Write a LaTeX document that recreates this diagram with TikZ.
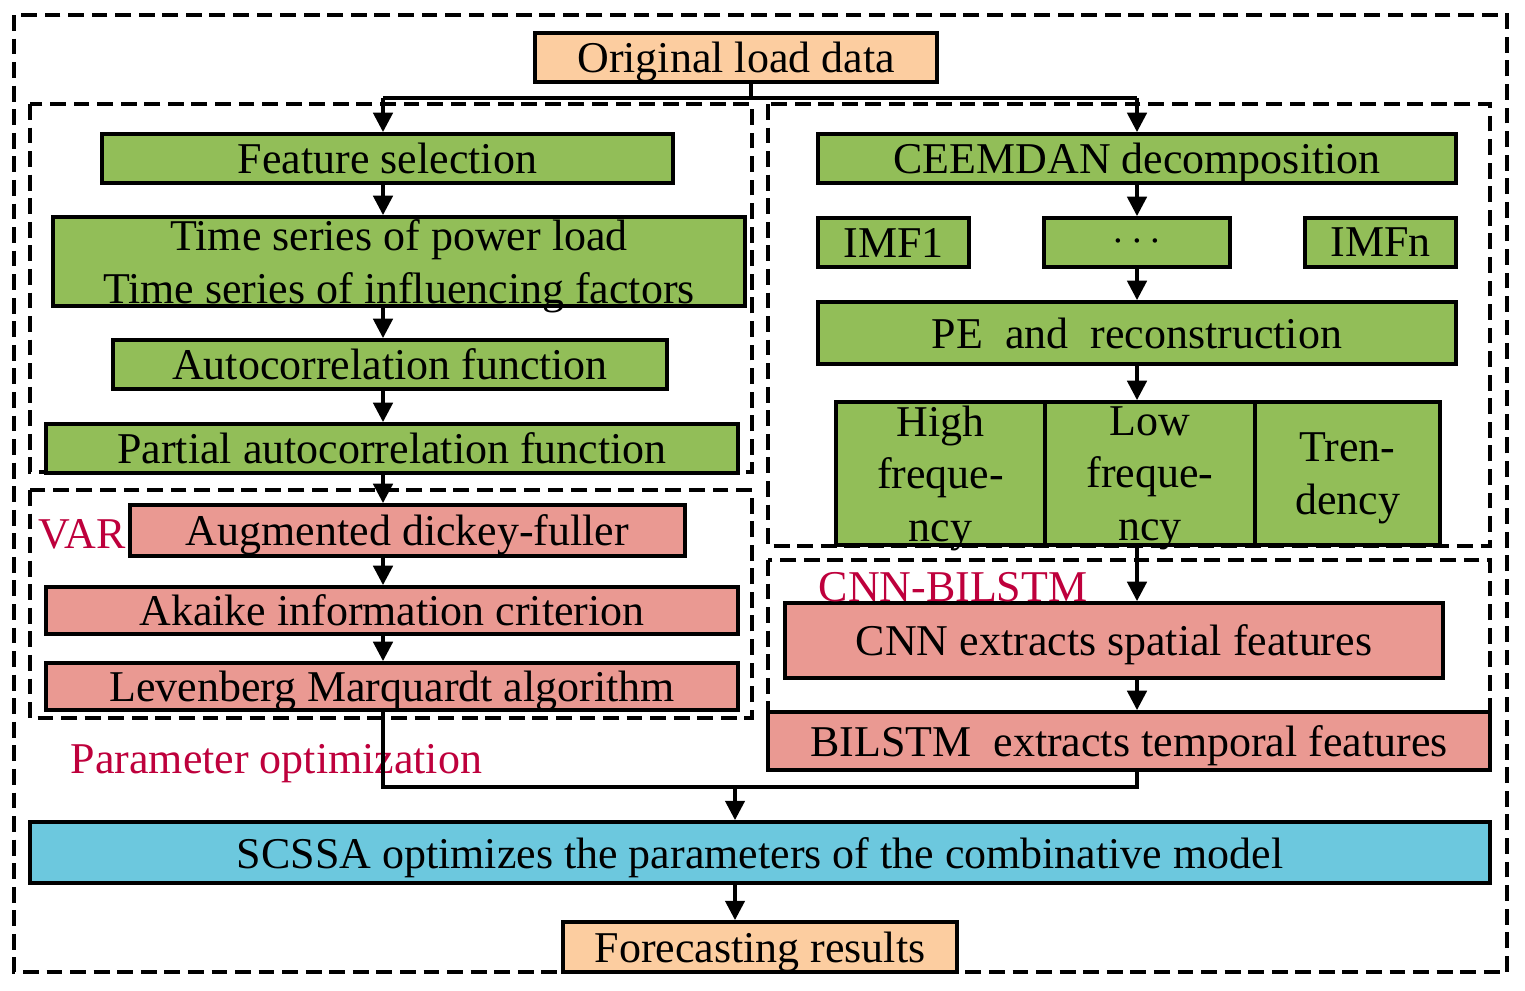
\documentclass[tikz,border=0pt]{standalone}
\usepackage{fontspec}
\setmainfont{Liberation Serif}
\usetikzlibrary{arrows.meta}
\definecolor{gr}{RGB}{146,190,88}
\definecolor{pk}{RGB}{234,153,146}
\definecolor{or}{RGB}{252,205,160}
\definecolor{cy}{RGB}{108,200,222}
\definecolor{lab}{RGB}{190,0,60}
\newcommand\mybox[7]{\node[#2, minimum width={(#5-#3)*0.01cm}, minimum height={(#6-#4)*0.01cm}] (#1) at ({(#3+#5)/2},{(#4+#6)/2}) {#7};}
\begin{document}
\begin{tikzpicture}[x=0.01cm,y=-0.01cm,
  box/.style={draw=black,line width=1.1pt,inner sep=0pt,font=\fontsize{12.5}{15}\selectfont,align=center,text depth=0pt},
  G/.style={box,fill=gr}, P/.style={box,fill=pk}, O/.style={box,fill=or}, C/.style={box,fill=cy},
  dsh/.style={draw=black,line width=1pt,dash pattern=on 4.5pt off 2.2pt},
  ar/.style={line width=1pt,-{Triangle[length=5.5pt,width=5.5pt]}},
  ln/.style={line width=1pt},
  lbl/.style={text=lab,font=\fontsize{12.5}{15}\selectfont,inner sep=0pt,anchor=west}]
\useasboundingbox (0,0) rectangle (1525,990);
\draw[dsh] (14,15) rectangle (1507,972);
\draw[dsh] (30,104) rectangle (752,472);
\draw[dsh] (768,104) rectangle (1490,546);
\draw[dsh] (30,490) rectangle (752,718);
\draw[dsh] (768,560) rectangle (1490,712);
\mybox{orig}{O}{535}{33}{937}{82}{Original load data}
\mybox{fs}{G}{102}{134}{673}{183}{Feature selection}
\mybox{ts}{G}{53}{217}{745}{306}{Time series of power load\\Time series of influencing factors}
\mybox{acf}{G}{113}{340}{667}{389}{Autocorrelation function}
\mybox{pacf}{G}{46}{424}{738}{473}{Partial autocorrelation function}
\mybox{adf}{P}{130}{505}{685}{556}{Augmented dickey-fuller}
\mybox{aic}{P}{46}{587}{738}{634}{Akaike information criterion}
\mybox{lm}{P}{46}{663}{738}{710}{Levenberg Marquardt algorithm}
\mybox{ceem}{G}{818}{134}{1456}{183}{CEEMDAN decomposition}
\mybox{imf1}{G}{818}{218}{969}{267}{IMF1}
\mybox{dots}{G}{1044}{218}{1230}{267}{$\cdots$}
\mybox{imfn}{G}{1305}{218}{1456}{267}{IMFn}
\mybox{pe}{G}{818}{302}{1456}{364}{PE\ \ and\ \ reconstruction}
\mybox{hi}{G}{836}{402}{1045}{545}{High\\freque-\\ncy}
\mybox{lo}{G}{1045}{402}{1255}{545}{Low\\freque-\\ncy}
\mybox{tr}{G}{1255}{402}{1440}{545}{Tren-\\dency}
\mybox{cnn}{P}{785}{603}{1443}{678}{CNN extracts spatial features}
\mybox{bil}{P}{768}{712}{1490}{770}{BILSTM\ \ extracts temporal features}
\mybox{scssa}{C}{30}{822}{1490}{883}{SCSSA optimizes the parameters of the combinative model}
\mybox{fr}{O}{563}{922}{957}{972}{Forecasting results}
\node[lbl] (var) at (38,534) {VAR};
\node[lbl] (cb) at (818,587) {CNN-BILSTM};
\node[lbl] (po) at (70,764) {Parameter optimization};
\coordinate (s0) at (751,98);
\coordinate (sl) at (383,98);
\coordinate (sr) at (1137,98);
\draw[ln] (orig.south -| s0) -- (s0);
\draw[ln] (sl) -- (sr);
\draw[ar] (sl) -- (sl |- fs.north);
\draw[ar] (sr) -- (sr |- ceem.north);
\draw[ar] (fs.south -| sl) -- (ts.north -| sl);
\draw[ar] (ts.south -| sl) -- (acf.north -| sl);
\draw[ar] (acf.south -| sl) -- (pacf.north -| sl);
\draw[ar] (pacf.south -| sl) -- (adf.north -| sl);
\draw[ar] (adf.south -| sl) -- (aic.north -| sl);
\draw[ar] (aic.south -| sl) -- (lm.north -| sl);
\draw[ar] (ceem.south -| sr) -- (dots.north -| sr);
\draw[ar] (dots.south -| sr) -- (pe.north -| sr);
\draw[ar] (pe.south -| sr) -- (lo.north -| sr);
\draw[ar] (lo.south -| sr) -- (cnn.north -| sr);
\draw[ar] (cnn.south -| sr) -- (bil.north -| sr);
\coordinate (ml) at (383,787);
\coordinate (mr) at (1137,787);
\coordinate (mc) at (735,787);
\draw[ln] (lm.south -| ml) -- (ml) -- (mr) -- (bil.south -| mr);
\draw[ar] (mc) -- (scssa.north -| mc);
\draw[ar] (scssa.south -| mc) -- (fr.north -| mc);
\end{tikzpicture}
\end{document}
